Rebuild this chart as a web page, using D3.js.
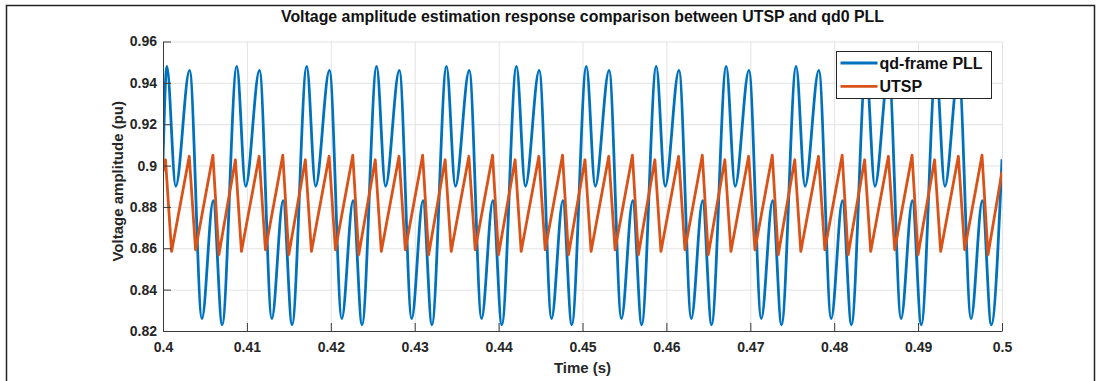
<!DOCTYPE html>
<html>
<head>
<meta charset="utf-8">
<script src="https://cdn.jsdelivr.net/npm/d3@7"></script>
<style>
  html, body { margin: 0; padding: 0; background: #fff; }
  svg { display: block; font-family: "Liberation Sans", Arial, Helvetica, sans-serif; }
</style>
</head>
<body>
<div id="chart"></div>
<script>
const width = 1101;
const height = 381;

const seriesNames = ['qd-frame PLL', 'UTSP'];
const seriesColors = ['#0072BD', '#D95319'];
const xTicks = [0.4, 0.41, 0.42, 0.43, 0.44, 0.45, 0.46, 0.47, 0.48, 0.49, 0.5];
const yTicks = [0.82, 0.84, 0.86, 0.88, 0.9, 0.92, 0.94, 0.96];

// qd-frame PLL: turning points (time in s, amplitude in pu)
const qdTime = [
  0.40000,
  0.40046, 0.40152, 0.40317, 0.40464, 0.40599, 0.40705,
  0.40879, 0.40985, 0.41150, 0.41297, 0.41432, 0.41538,
  0.41713, 0.41819, 0.41984, 0.42131, 0.42266, 0.42372,
  0.42546, 0.42652, 0.42817, 0.42964, 0.43099, 0.43205,
  0.43379, 0.43485, 0.43650, 0.43797, 0.43932, 0.44038,
  0.44213, 0.44319, 0.44484, 0.44631, 0.44766, 0.44872,
  0.45046, 0.45152, 0.45317, 0.45464, 0.45599, 0.45705,
  0.45879, 0.45985, 0.46150, 0.46297, 0.46432, 0.46538,
  0.46713, 0.46819, 0.46984, 0.47131, 0.47266, 0.47372,
  0.47546, 0.47652, 0.47817, 0.47964, 0.48099, 0.48205,
  0.48379, 0.48485, 0.48650, 0.48797, 0.48932, 0.49038,
  0.49213, 0.49319, 0.49484, 0.49631, 0.49766, 0.49872,
  0.50000
];
const qdAmp = [
  0.902,
  0.948, 0.890, 0.946, 0.826, 0.883, 0.823,
  0.948, 0.890, 0.946, 0.826, 0.883, 0.823,
  0.948, 0.890, 0.946, 0.826, 0.883, 0.823,
  0.948, 0.890, 0.946, 0.826, 0.883, 0.823,
  0.948, 0.890, 0.946, 0.826, 0.883, 0.823,
  0.948, 0.890, 0.946, 0.826, 0.883, 0.823,
  0.948, 0.890, 0.946, 0.826, 0.883, 0.823,
  0.948, 0.890, 0.946, 0.826, 0.883, 0.823,
  0.948, 0.890, 0.946, 0.826, 0.883, 0.823,
  0.948, 0.890, 0.946, 0.826, 0.883, 0.823,
  0.948, 0.890, 0.946, 0.826, 0.883, 0.823,
  0.948, 0.890, 0.946, 0.826, 0.883, 0.823,
  0.903
];

// UTSP: sawtooth corners
const utspTime = [
  0.40000,
  0.40030, 0.40102, 0.40313, 0.40388, 0.40595, 0.40666,
  0.40863, 0.40935, 0.41146, 0.41221, 0.41428, 0.41499,
  0.41697, 0.41769, 0.41980, 0.42055, 0.42262, 0.42333,
  0.42530, 0.42602, 0.42813, 0.42888, 0.43095, 0.43166,
  0.43363, 0.43435, 0.43646, 0.43721, 0.43928, 0.43999,
  0.44197, 0.44269, 0.44480, 0.44555, 0.44762, 0.44833,
  0.45030, 0.45102, 0.45313, 0.45388, 0.45595, 0.45666,
  0.45863, 0.45935, 0.46146, 0.46221, 0.46428, 0.46499,
  0.46697, 0.46769, 0.46980, 0.47055, 0.47262, 0.47333,
  0.47530, 0.47602, 0.47813, 0.47888, 0.48095, 0.48166,
  0.48363, 0.48435, 0.48646, 0.48721, 0.48928, 0.48999,
  0.49197, 0.49269, 0.49480, 0.49555, 0.49762, 0.49833,
  0.50000
];
const utspAmp = [
  0.897,
  0.9028, 0.8585, 0.9045, 0.8593, 0.9050, 0.8569,
  0.9028, 0.8585, 0.9045, 0.8593, 0.9050, 0.8569,
  0.9028, 0.8585, 0.9045, 0.8593, 0.9050, 0.8569,
  0.9028, 0.8585, 0.9045, 0.8593, 0.9050, 0.8569,
  0.9028, 0.8585, 0.9045, 0.8593, 0.9050, 0.8569,
  0.9028, 0.8585, 0.9045, 0.8593, 0.9050, 0.8569,
  0.9028, 0.8585, 0.9045, 0.8593, 0.9050, 0.8569,
  0.9028, 0.8585, 0.9045, 0.8593, 0.9050, 0.8569,
  0.9028, 0.8585, 0.9045, 0.8593, 0.9050, 0.8569,
  0.9028, 0.8585, 0.9045, 0.8593, 0.9050, 0.8569,
  0.9028, 0.8585, 0.9045, 0.8593, 0.9050, 0.8569,
  0.9028, 0.8585, 0.9045, 0.8593, 0.9050, 0.8569,
  0.897
];

const margin = { top: 41.5, right: 99, bottom: 50, left: 163 };
const plotW = 1002 - margin.left;
const plotH = 331 - margin.top;

const x = d3.scaleLinear().domain([0.4, 0.5]).range([0, plotW]);
const y = d3.scaleLinear().domain([0.82, 0.96]).range([plotH, 0]);
const fmt = d => String(+d.toFixed(2));

const svg = d3.select('#chart').append('svg')
    .attr('width', width)
    .attr('height', height);

// outer frame of the figure
svg.append('path')
    .attr('d', `M6.5,${height} V5.5 H1094.5 V${height}`)
    .attr('fill', 'none')
    .attr('stroke', '#222')
    .attr('stroke-width', 1.5);

svg.append('text')
    .attr('x', margin.left + plotW / 2)
    .attr('y', 21.5)
    .attr('text-anchor', 'middle')
    .attr('font-size', 16)
    .attr('font-weight', 'bold')
    .attr('fill', '#111')
    .attr('textLength', 603)
    .attr('lengthAdjust', 'spacingAndGlyphs')
    .text('Voltage amplitude estimation response comparison between UTSP and qd0 PLL');

const g = svg.append('g')
    .attr('transform', `translate(${margin.left},${margin.top})`);

// grid
g.append('g')
    .attr('transform', `translate(0,${plotH})`)
    .call(d3.axisBottom(x).tickValues(xTicks).tickSize(-plotH).tickFormat(''))
    .call(a => a.select('.domain').remove())
    .call(a => a.selectAll('line').attr('stroke', '#e3e3e3'));

g.append('g')
    .call(d3.axisLeft(y).tickValues(yTicks).tickSize(-plotW).tickFormat(''))
    .call(a => a.select('.domain').remove())
    .call(a => a.selectAll('line').attr('stroke', '#e3e3e3'));

g.append('clipPath')
    .attr('id', 'plotClip')
  .append('rect')
    .attr('x', 0).attr('y', 0)
    .attr('width', plotW).attr('height', plotH);

const series = [
  { name: seriesNames[0], color: seriesColors[0], t: qdTime, v: qdAmp, curve: d3.curveMonotoneX },
  { name: seriesNames[1], color: seriesColors[1], t: utspTime, v: utspAmp, curve: d3.curveLinear }
];

series.forEach(s => {
  const line = d3.line()
      .x(i => x(s.t[i]))
      .y(i => y(s.v[i]))
      .curve(s.curve);
  g.append('path')
      .attr('clip-path', 'url(#plotClip)')
      .attr('d', line(d3.range(s.t.length)))
      .attr('fill', 'none')
      .attr('stroke', s.color)
      .attr('stroke-width', 2.8)
      .attr('stroke-linejoin', 'round');
});

// axes, ticks pointing inward
const xAxis = g.append('g')
    .attr('transform', `translate(0,${plotH})`)
    .call(d3.axisBottom(x).tickValues(xTicks).tickSizeInner(-8).tickSizeOuter(0).tickPadding(11).tickFormat(fmt));

const yAxis = g.append('g')
    .call(d3.axisLeft(y).tickValues(yTicks).tickSizeInner(-8).tickSizeOuter(0).tickPadding(6).tickFormat(fmt));

[xAxis, yAxis].forEach(a => {
  a.select('.domain').attr('stroke', '#3a3a3a');
  a.selectAll('line').attr('stroke', '#3a3a3a');
  a.selectAll('text')
      .attr('font-family', '"Liberation Sans", Arial, Helvetica, sans-serif')
      .attr('font-size', 14)
      .attr('font-weight', 'bold')
      .attr('fill', '#262626');
});

svg.append('text')
    .attr('x', margin.left + plotW / 2)
    .attr('y', 373)
    .attr('text-anchor', 'middle')
    .attr('font-size', 15)
    .attr('font-weight', 'bold')
    .attr('fill', '#262626')
    .text('Time (s)');

svg.append('text')
    .attr('transform', `translate(123,${margin.top + plotH / 2 - 5}) rotate(-90)`)
    .attr('text-anchor', 'middle')
    .attr('font-size', 15)
    .attr('font-weight', 'bold')
    .attr('fill', '#262626')
    .text('Voltage amplitude (pu)');

// legend
const legend = svg.append('g').attr('transform', 'translate(836.5,51.5)');
legend.append('rect')
    .attr('width', 155)
    .attr('height', 47)
    .attr('fill', '#fff')
    .attr('stroke', '#262626')
    .attr('stroke-width', 1);

series.forEach((s, i) => {
  const row = legend.append('g').attr('transform', `translate(0,${11.5 + i * 23.3})`);
  row.append('line')
      .attr('x1', 4).attr('x2', 41)
      .attr('stroke', s.color)
      .attr('stroke-width', 2.8);
  row.append('text')
      .attr('x', 43)
      .attr('y', 6)
      .attr('font-size', 16)
      .attr('font-weight', 'bold')
      .attr('fill', '#111')
      .text(s.name);
});
</script>
</body>
</html>
